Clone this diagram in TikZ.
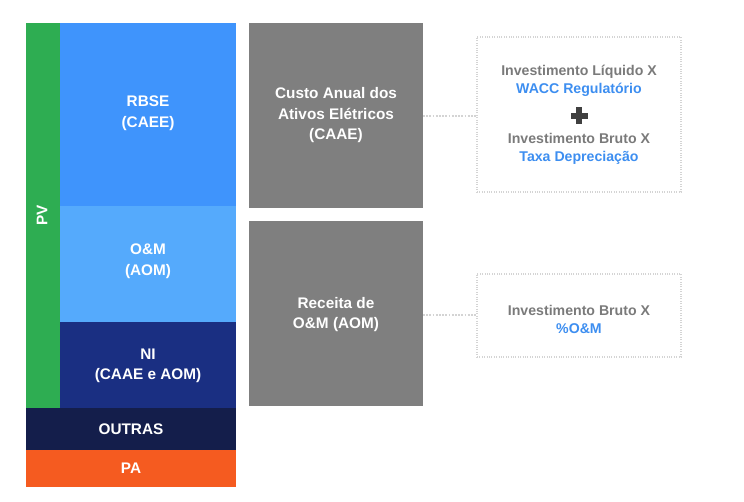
\documentclass[tikz,border=0pt]{standalone}
\usepackage{fontspec}
\setmainfont{Liberation Sans}
\def\u{0.75pt}
\definecolor{pvgreen}{HTML}{2EAD52}
\definecolor{rbseblue}{HTML}{3F94FC}
\definecolor{omblue}{HTML}{55AAFC}
\definecolor{niblue}{HTML}{1A2F82}
\definecolor{outnavy}{HTML}{141E4B}
\definecolor{paorange}{HTML}{F55B20}
\definecolor{boxgray}{HTML}{7F7F7F}
\definecolor{txtgray}{HTML}{7A7A7A}
\definecolor{txtblue}{HTML}{3D8EF0}
\definecolor{plusgray}{HTML}{404040}
\definecolor{dotgray}{HTML}{D4D4D4}
\tikzset{
  blk/.style={inner sep=0pt, outer sep=0pt, text=white, font=\bfseries\fontsize{11.5}{15.4}\selectfont, align=center},
  formbox/.style={draw=dotgray, densely dotted, line width=0.8pt, inner sep=0pt, outer sep=0pt, align=center, font=\bfseries\fontsize{10.6}{13.5}\selectfont, text=txtgray},
  link/.style={draw=dotgray, densely dotted, line width=1.4pt}
}
\begin{document}
\begin{tikzpicture}[x=0.75pt,y=-0.75pt]
\useasboundingbox (0,0) rectangle (744,502);
% left stack
\node[blk, fill=pvgreen, minimum width=34*\u, minimum height=385*\u] (pv) at (43,215.5) {};
\node[blk, text=white, rotate=90] (pvt) at (42,215.5) {PV};
\node[blk, fill=rbseblue, minimum width=176*\u, minimum height=183*\u] (rbse) at (148,114.5) {};
\node[blk] (rbset) at (148,113) {RBSE\\(CAEE)};
\node[blk, fill=omblue, minimum width=176*\u, minimum height=116*\u] (om) at (148,264) {};
\node[blk] (omt) at (148,261) {O\&M\\(AOM)};
\node[blk, fill=niblue, minimum width=176*\u, minimum height=86*\u] (ni) at (148,365) {};
\node[blk] (nit) at (148,366) {NI\\(CAAE e AOM)};
\node[blk, fill=outnavy, minimum width=210*\u, minimum height=42*\u] (outras) at (131,429) {OUTRAS};
\node[blk, fill=paorange, minimum width=210*\u, minimum height=37*\u] (pa) at (131,468.5) {PA};
% gray boxes
\node[blk, fill=boxgray, minimum width=174*\u, minimum height=185*\u] (caae) at (336,115.5) {Custo Anual dos\\Ativos Elétricos\\(CAAE)};
\node[blk, fill=boxgray, minimum width=174*\u, minimum height=185*\u] (aom) at (336,313.5) {};
\node[blk] (aomt) at (336,314.5) {Receita de\\O\&M (AOM)};
% formula boxes
\node[formbox, minimum width=204*\u, minimum height=155*\u] (f1) at (579,114.5) {};
\node[formbox, draw=none, solid] (f1a) at (579,81) {Investimento Líquido X\\\textcolor{txtblue}{WACC Regulatório}};
\node[inner sep=0pt, outer sep=0pt] (plus) at (579,116) {};
\fill[plusgray] ([xshift=-8.5*\u,yshift=2.6*\u]plus.center) rectangle ([xshift=8.5*\u,yshift=-2.6*\u]plus.center);
\fill[plusgray] ([xshift=-2.6*\u,yshift=8.5*\u]plus.center) rectangle ([xshift=2.6*\u,yshift=-8.5*\u]plus.center);
\node[formbox, draw=none, solid] (f1b) at (579,149) {Investimento Bruto X\\\textcolor{txtblue}{Taxa Depreciação}};
\node[formbox, minimum width=204*\u, minimum height=83*\u] (f2) at (579,315.5) {};
\node[formbox, draw=none, solid] (f2t) at (579,319) {Investimento Bruto X\\\textcolor{txtblue}{\%O\&M}};
% connectors
\draw[link] (caae.east |- 0,115.7) -- (f1.west |- 0,115.7);
\draw[link] (aom.east |- 0,315) -- (f2.west |- 0,315);
\end{tikzpicture}
\end{document}
